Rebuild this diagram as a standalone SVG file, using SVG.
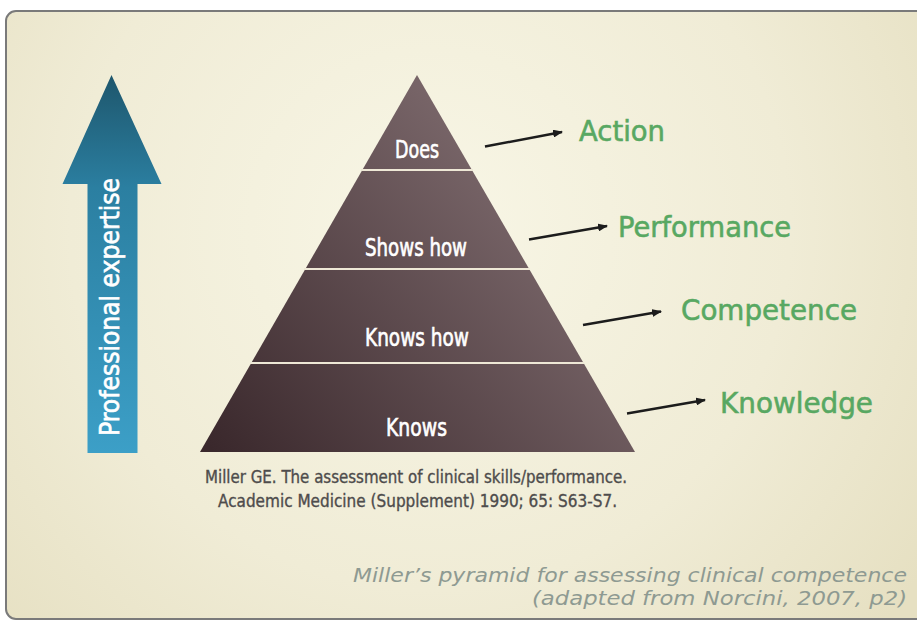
<svg xmlns="http://www.w3.org/2000/svg" width="917" height="620" viewBox="0 0 917 620">
  <defs>
    <radialGradient id="bg" cx="430" cy="230" r="600" gradientUnits="userSpaceOnUse">
      <stop offset="0" stop-color="#f8f6e6"/>
      <stop offset="0.6" stop-color="#f0ecd6"/>
      <stop offset="1" stop-color="#e6e0c2"/>
    </radialGradient>
    <linearGradient id="pyr" x1="220" y1="460" x2="560" y2="170" gradientUnits="userSpaceOnUse">
      <stop offset="0" stop-color="#3a282c"/>
      <stop offset="1" stop-color="#7f6c6f"/>
    </linearGradient>
    <linearGradient id="blue" x1="0" y1="75" x2="0" y2="453" gradientUnits="userSpaceOnUse">
      <stop offset="0" stop-color="#1e566c"/>
      <stop offset="0.3" stop-color="#2b7fa1"/>
      <stop offset="1" stop-color="#3c9fc7"/>
    </linearGradient>
    <marker id="ah" viewBox="0 0 10 8" refX="9" refY="4" markerWidth="10" markerHeight="8" markerUnits="userSpaceOnUse" orient="auto">
      <path d="M0,0 L10,4 L0,8 Z" fill="#1c1c1c"/>
    </marker>
    <style>
      .lvl { font-family: "DejaVu Sans Condensed", "DejaVu Sans", sans-serif; font-size: 24px; fill: #ffffff; stroke: #ffffff; stroke-width: 0.6; }
      .lbl { font-family: "DejaVu Sans", "Liberation Sans", sans-serif; font-size: 29px; fill: #58a862; stroke: #58a862; stroke-width: 0.6; }
      .cite { font-family: "DejaVu Sans Condensed", "DejaVu Sans", sans-serif; font-size: 18px; fill: #4e4c4c; stroke: #4e4c4c; stroke-width: 0.35; }
      .cap { font-family: "DejaVu Sans", "Liberation Sans", sans-serif; font-size: 20px; font-style: italic; fill: #8e9a92; }
      .div { stroke: #eee8d6; stroke-width: 2; }
      .con { stroke: #1c1c1c; stroke-width: 2.5; fill: none; marker-end: url(#ah); }
    </style>
  </defs>

  <rect x="0" y="0" width="917" height="620" fill="#ffffff"/>
  <rect id="panel" x="6" y="11" width="940" height="608" rx="10" ry="10" fill="url(#bg)" stroke="#7a7a7a" stroke-width="2"/>

  <g id="expertise-arrow">
    <polygon points="111.5,75 161.5,184 137.5,184 137.5,453 87.5,453 87.5,184 62.5,184" fill="url(#blue)"/>
    <text transform="translate(119,307) rotate(-90)" x="-129" y="0" textLength="258" lengthAdjust="spacingAndGlyphs" style="font-family: 'DejaVu Sans Condensed', 'DejaVu Sans', sans-serif; font-size: 26px; fill: #ffffff; stroke: #ffffff; stroke-width: 0.6;">Professional expertise</text>
  </g>

  <g id="pyramid">
    <polygon points="417,75 635,452 200,452" fill="url(#pyr)"/>
    <line class="div" x1="361" y1="170" x2="473" y2="170"/>
    <line class="div" x1="304" y1="269" x2="530" y2="269"/>
    <line class="div" x1="250" y1="363" x2="584" y2="363"/>
  </g>

  <g id="level-does">
    <text class="lvl" x="395" y="158" textLength="44" lengthAdjust="spacingAndGlyphs">Does</text>
  </g>
  <g id="level-shows-how">
    <text class="lvl" x="365" y="256" textLength="102" lengthAdjust="spacingAndGlyphs">Shows how</text>
  </g>
  <g id="level-knows-how">
    <text class="lvl" x="365" y="346" textLength="104" lengthAdjust="spacingAndGlyphs">Knows how</text>
  </g>
  <g id="level-knows">
    <text class="lvl" x="386" y="436" textLength="61" lengthAdjust="spacingAndGlyphs">Knows</text>
  </g>

  <g id="label-action">
    <text class="lbl" x="579" y="141" textLength="86" lengthAdjust="spacingAndGlyphs">Action</text>
  </g>
  <g id="label-performance">
    <text class="lbl" x="618" y="237" textLength="173" lengthAdjust="spacingAndGlyphs">Performance</text>
  </g>
  <g id="label-competence">
    <text class="lbl" x="681" y="320" textLength="176" lengthAdjust="spacingAndGlyphs">Competence</text>
  </g>
  <g id="label-knowledge">
    <text class="lbl" x="720" y="413" textLength="153" lengthAdjust="spacingAndGlyphs">Knowledge</text>
  </g>

  <g id="connectors">
    <line class="con" x1="485" y1="146.5" x2="562" y2="132"/>
    <line class="con" x1="529" y1="239.5" x2="607" y2="226"/>
    <line class="con" x1="583" y1="325" x2="661" y2="311.5"/>
    <line class="con" x1="627" y1="413.5" x2="705" y2="400"/>
  </g>

  <g id="citation">
    <text class="cite" x="205" y="483" textLength="422" lengthAdjust="spacingAndGlyphs">Miller GE. The assessment of clinical skills/performance.</text>
    <text class="cite" x="218" y="507" textLength="399" lengthAdjust="spacingAndGlyphs">Academic Medicine (Supplement) 1990; 65: S63-S7.</text>
  </g>

  <g id="caption">
    <text class="cap" x="353" y="582" textLength="554" lengthAdjust="spacingAndGlyphs">Miller’s pyramid for assessing clinical competence</text>
    <text class="cap" x="532" y="605" textLength="375" lengthAdjust="spacingAndGlyphs">(adapted from Norcini, 2007, p2)</text>
  </g>
</svg>
